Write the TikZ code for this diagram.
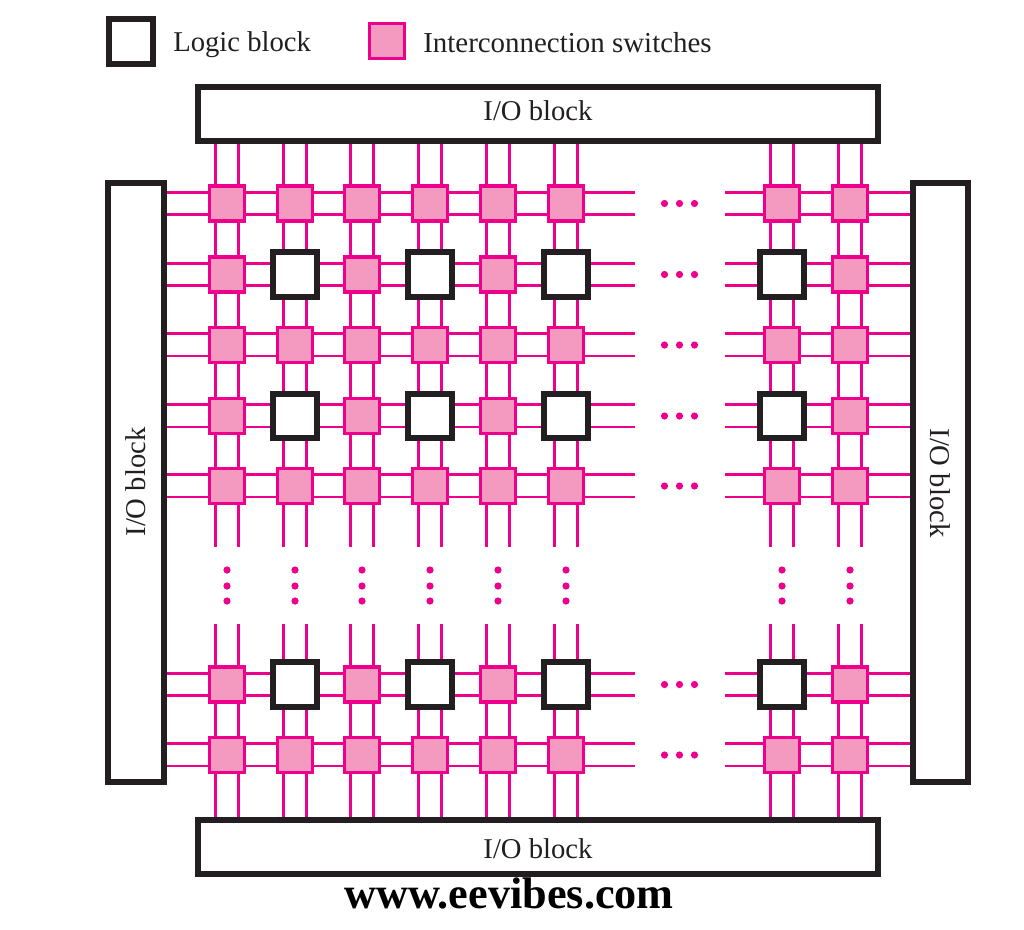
\documentclass[tikz,border=0pt]{standalone}
\usepackage{fontspec}
\setmainfont{Liberation Serif}
\usetikzlibrary{backgrounds}
\definecolor{wire}{HTML}{EC008C}
\definecolor{swfill}{HTML}{F49AC1}
\definecolor{ink}{HTML}{231F20}
\tikzset{
  x=0.75pt,y=-0.75pt,
  iobox/.style={draw=ink,fill=white,line width=4.5pt,rectangle,inner sep=0pt,outer sep=0pt},
  logicbox/.style={draw=ink,fill=white,line width=4.5pt,rectangle,inner sep=0pt,outer sep=0pt,minimum size=33.5pt},
  swbox/.style={draw=wire,fill=swfill,line width=2.6pt,rectangle,inner sep=0pt,outer sep=0pt,minimum size=26pt},
  wireline/.style={draw=wire,line width=2.15pt},
  label/.style={text=ink,font=\fontsize{21.5pt}{24pt}\selectfont,inner sep=0pt},
  dotmark/.style={circle,fill=wire,inner sep=0pt,minimum size=5.4pt}
}
\begin{document}
\begin{tikzpicture}
\useasboundingbox (0,0) rectangle (1024,929);
% legend
\node[logicbox] (legL) at (131,41.5) {};
\node[label,anchor=west] (legLt) at (173,45) {Logic block};
\node[swbox] (legS) at (387,41) {};
\node[label,anchor=west,font=\fontsize{21.7pt}{24pt}\selectfont] (legSt) at (423,43) {Interconnection switches};
% I/O blocks
\node[iobox,minimum width=510pt,minimum height=40.5pt] (iotop) at (537.5,114) {};
\node[iobox,minimum width=510pt,minimum height=40.5pt] (iobot) at (537.5,846.5) {};
\node[iobox,minimum width=41.5pt,minimum height=449pt] (ioleft) at (136,482.5) {};
\node[iobox,minimum width=41.5pt,minimum height=449pt] (ioright) at (940.5,482.5) {};
\node[label] (iotopt) at (538,111) {I/O block};
\node[label] (iobott) at (538,849) {I/O block};
\node[label,rotate=90] (ioleftt) at (136,482) {I/O block};
\node[label,rotate=-90] (iorightt) at (940.5,483) {I/O block};
% grid cells
\foreach \r/\yy in {1/203.5,2/274.5,3/345,4/416,5/486,6/684.5,7/755}{
  \foreach \c/\xx in {1/227,2/295,3/362,4/430,5/498,6/566,7/782,8/850}{
    \ifodd\r
      \node[swbox] (c\c r\r) at (\xx,\yy) {};
    \else
      \ifnum\c=1 \node[swbox] (c\c r\r) at (\xx,\yy) {};\fi
      \ifnum\c=3 \node[swbox] (c\c r\r) at (\xx,\yy) {};\fi
      \ifnum\c=5 \node[swbox] (c\c r\r) at (\xx,\yy) {};\fi
      \ifnum\c=8 \node[swbox] (c\c r\r) at (\xx,\yy) {};\fi
      \ifnum\c=2 \node[logicbox] (c\c r\r) at (\xx,\yy) {};\fi
      \ifnum\c=4 \node[logicbox] (c\c r\r) at (\xx,\yy) {};\fi
      \ifnum\c=6 \node[logicbox] (c\c r\r) at (\xx,\yy) {};\fi
      \ifnum\c=7 \node[logicbox] (c\c r\r) at (\xx,\yy) {};\fi
    \fi
  }
  % horizontal gap dots
  \node[dotmark] (hd\r a) at (664.5,\yy) {};
  \node[dotmark] (hd\r b) at (679.5,\yy) {};
  \node[dotmark] (hd\r c) at (694.5,\yy) {};
  \coordinate (hl\r) at (635,\yy);
  \coordinate (hr\r) at (725,\yy);
}
\foreach \c/\xx in {1/227,2/295,3/362,4/430,5/498,6/566,7/782,8/850}{
  \node[dotmark] (vd\c a) at (\xx,570) {};
  \node[dotmark] (vd\c b) at (\xx,586) {};
  \node[dotmark] (vd\c c) at (\xx,601) {};
  \coordinate (vt\c) at (\xx,547);
  \coordinate (vb\c) at (\xx,624);
}
% wires
\begin{scope}[on background layer]
\foreach \r in {1,...,7}{
  \foreach \o in {-8.25pt,8.5pt}{
    \draw[wireline] ([yshift=\o]c1r\r.west -| ioleft.east) -- ([yshift=\o]c1r\r.west);
    \foreach \a/\b in {1/2,2/3,3/4,4/5,5/6}{
      \draw[wireline] ([yshift=\o]c\a r\r.east) -- ([yshift=\o]c\b r\r.west);
    }
    \draw[wireline] ([yshift=\o]c6r\r.east) -- ([yshift=\o]hl\r);
    \draw[wireline] ([yshift=\o]hr\r) -- ([yshift=\o]c7r\r.west);
    \draw[wireline] ([yshift=\o]c7r\r.east) -- ([yshift=\o]c8r\r.west);
    \draw[wireline] ([yshift=\o]c8r\r.east) -- ([yshift=\o]c8r\r.east -| ioright.west);
  }
}
\foreach \c in {1,...,8}{
  \foreach \o in {-8.5pt,8.5pt}{
    \draw[wireline] ([xshift=\o]c\c r1.north |- iotop.south) -- ([xshift=\o]c\c r1.north);
    \foreach \a/\b in {1/2,2/3,3/4,4/5,6/7}{
      \draw[wireline] ([xshift=\o]c\c r\a.south) -- ([xshift=\o]c\c r\b.north);
    }
    \draw[wireline] ([xshift=\o]c\c r5.south) -- ([xshift=\o]vt\c);
    \draw[wireline] ([xshift=\o]vb\c) -- ([xshift=\o]c\c r6.north);
    \draw[wireline] ([xshift=\o]c\c r7.south) -- ([xshift=\o]c\c r7.south |- iobot.north);
  }
}
\end{scope}
\node[font=\bfseries\fontsize{33.2pt}{36pt}\selectfont,text=black,inner sep=0pt] (site) at (509,893) {www.eevibes.com};
\end{tikzpicture}
\end{document}
